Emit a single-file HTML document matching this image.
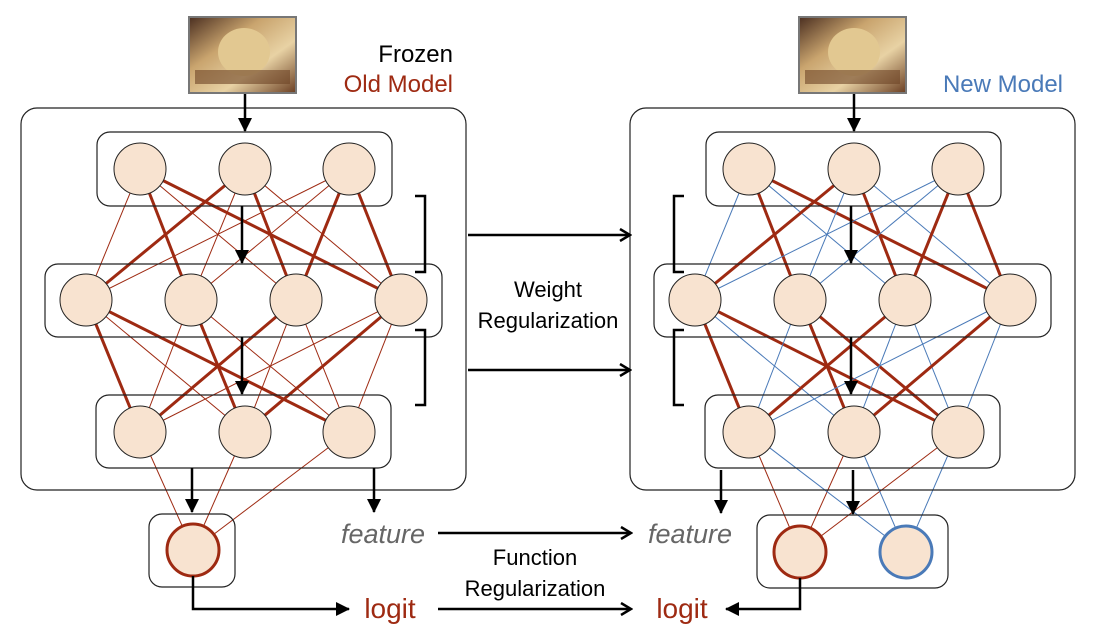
<!DOCTYPE html>
<html><head><meta charset="utf-8"><style>
html,body{margin:0;padding:0;background:#fff;}
svg{display:block;font-family:"Liberation Sans",Arial,sans-serif;}
</style></head><body>
<svg id="s" width="1099" height="641" viewBox="0 0 1099 641" xmlns="http://www.w3.org/2000/svg">
<defs>
<marker id="ah" markerWidth="14" markerHeight="14" refX="12" refY="7" orient="auto" markerUnits="userSpaceOnUse"><path d="M2,1 L12,7 L2,13" fill="none" stroke="#000" stroke-width="2.5"/></marker>
<marker id="ab" markerWidth="14" markerHeight="14" refX="13" refY="7" orient="auto" markerUnits="userSpaceOnUse"><path d="M0,0 L14,7 L0,14 z" fill="#000"/></marker>
<linearGradient id="cat" x1="0" y1="0" x2="1" y2="1"><stop offset="0" stop-color="#4a2e20"/><stop offset="0.35" stop-color="#c9a46e"/><stop offset="0.65" stop-color="#e8d2a4"/><stop offset="1" stop-color="#6a3e22"/></linearGradient>
</defs>
<g id="edges"></g>
<g id="fg"></g>
</svg>
<script>
const NS="http://www.w3.org/2000/svg";
const E=document.getElementById('edges'),F=document.getElementById('fg');
function el(p,t,a,txt){const e=document.createElementNS(NS,t);for(const k in a)e.setAttribute(k,a[k]);if(txt)e.textContent=txt;p.appendChild(e);return e;}
const RED="#9e2a12",BLUE="#4a7ab8";
function net(dx,thin,outs){
 const L1=[140,245,349].map(x=>[x+dx,169]),L2=[86,191,296,401].map(x=>[x+dx,300]),L3=[140,245,349].map(x=>[x+dx,432]);
 const t12=[[0,1],[0,3],[1,0],[1,2],[2,2],[2,3]];
 const t23=dx? [[0,0],[0,2],[1,1],[1,2],[2,0],[3,1]] : [[0,0],[0,2],[1,1],[2,0],[3,1]];
 for(let i=0;i<3;i++)for(let j=0;j<4;j++){const th=t12.some(p=>p[0]==i&&p[1]==j);
  el(E,'line',{x1:L1[i][0],y1:L1[i][1],x2:L2[j][0],y2:L2[j][1],stroke:th?RED:thin,'stroke-width':th?3:1});}
 for(let i=0;i<4;i++)for(let j=0;j<3;j++){const th=t23.some(p=>p[0]==i&&p[1]==j);
  el(E,'line',{x1:L2[i][0],y1:L2[i][1],x2:L3[j][0],y2:L3[j][1],stroke:th?RED:thin,'stroke-width':th?3:1});}
 outs.forEach(o=>L3.forEach(n=>el(E,'line',{x1:n[0],y1:n[1],x2:o[0],y2:o[1],stroke:o[2],'stroke-width':1})));
 el(F,'rect',{x:21+dx,y:108,width:445,height:382,rx:16,fill:'none',stroke:'#222','stroke-width':1.2});
 el(F,'rect',{x:97+dx,y:132,width:295,height:74,rx:13,fill:'none',stroke:'#222','stroke-width':1.2});
 el(F,'rect',{x:45+dx,y:264,width:397,height:73,rx:13,fill:'none',stroke:'#222','stroke-width':1.2});
 el(F,'rect',{x:96+dx,y:395,width:295,height:73,rx:13,fill:'none',stroke:'#222','stroke-width':1.2});
 [...L1,...L2,...L3].forEach(n=>el(F,'circle',{cx:n[0],cy:n[1],r:26,fill:'#f8e3d0',stroke:'#222','stroke-width':1}));
 el(F,'line',{x1:245+dx,y1:93,x2:245+dx,y2:131,stroke:'#000','stroke-width':2.5,'marker-end':'url(#ab)'});
 el(F,'line',{x1:242+dx,y1:206,x2:242+dx,y2:263,stroke:'#000','stroke-width':2.5,'marker-end':'url(#ab)'});
 el(F,'line',{x1:242+dx,y1:337,x2:242+dx,y2:394,stroke:'#000','stroke-width':2.5,'marker-end':'url(#ab)'});
}
net(0,RED,[[193,550,RED]]);
net(609,BLUE,[[800,552,RED],[906,552,BLUE]]);
[189,799].forEach(x=>{el(F,'rect',{x:x,y:17,width:107,height:76,fill:'url(#cat)',stroke:'#777','stroke-width':2});
 el(F,'ellipse',{cx:x+55,cy:52,rx:26,ry:24,fill:'#e2c891'});
 el(F,'rect',{x:x+6,y:70,width:95,height:14,fill:'#6e4426',opacity:0.6});});
function br(x,y1,y2,d){el(F,'path',{d:`M${x},${y1} H${x+d} V${y2} H${x}`,fill:'none',stroke:'#000','stroke-width':2.5});}
br(415,196,272,10);br(415,330,405,10);br(684,196,272,-10);br(684,330,405,-10);
[235,370].forEach(y=>el(F,'line',{x1:468,y1:y,x2:630,y2:y,stroke:'#000','stroke-width':2.5,'marker-end':'url(#ah)'}));
el(F,'line',{x1:438,y1:533,x2:631,y2:533,stroke:'#000','stroke-width':2.5,'marker-end':'url(#ah)'});
el(F,'line',{x1:438,y1:609,x2:631,y2:609,stroke:'#000','stroke-width':2.5,'marker-end':'url(#ah)'});
el(F,'rect',{x:149,y:514,width:86,height:73,rx:13,fill:'none',stroke:'#222','stroke-width':1.2});
el(F,'rect',{x:757,y:515,width:191,height:73,rx:13,fill:'none',stroke:'#222','stroke-width':1.2});
el(F,'circle',{cx:193,cy:550,r:26,fill:'#f8e3d0',stroke:RED,'stroke-width':3});
el(F,'circle',{cx:800,cy:552,r:26,fill:'#f8e3d0',stroke:RED,'stroke-width':3});
el(F,'circle',{cx:906,cy:552,r:26,fill:'#f8e3d0',stroke:BLUE,'stroke-width':3});
[[192,468,512],[374,468,512],[721,470,513],[853,470,514]].forEach(([x,a,b])=>el(F,'line',{x1:x,y1:a,x2:x,y2:b,stroke:'#000','stroke-width':2.5,'marker-end':'url(#ab)'}));
el(F,'path',{d:'M193,576 V609 H349',fill:'none',stroke:'#000','stroke-width':2.5,'marker-end':'url(#ab)'});
el(F,'path',{d:'M800,578 V609 H726',fill:'none',stroke:'#000','stroke-width':2.5,'marker-end':'url(#ab)'});
el(F,'text',{x:453,y:62,'text-anchor':'end','font-size':24,fill:'#000'},'Frozen');
el(F,'text',{x:453,y:92,'text-anchor':'end','font-size':24,fill:RED},'Old Model');
el(F,'text',{x:1063,y:92,'text-anchor':'end','font-size':24,fill:BLUE},'New Model');
el(F,'text',{x:548,y:297,'text-anchor':'middle','font-size':22},'Weight');
el(F,'text',{x:548,y:328,'text-anchor':'middle','font-size':22},'Regularization');
el(F,'text',{x:535,y:565,'text-anchor':'middle','font-size':22},'Function');
el(F,'text',{x:535,y:596,'text-anchor':'middle','font-size':22},'Regularization');
el(F,'text',{x:383,y:543,'text-anchor':'middle','font-size':27,'font-style':'italic',fill:'#666'},'feature');
el(F,'text',{x:690,y:543,'text-anchor':'middle','font-size':27,'font-style':'italic',fill:'#666'},'feature');
el(F,'text',{x:390,y:618,'text-anchor':'middle','font-size':28,fill:RED},'logit');
el(F,'text',{x:682,y:618,'text-anchor':'middle','font-size':28,fill:RED},'logit');
</script>
</body></html>
